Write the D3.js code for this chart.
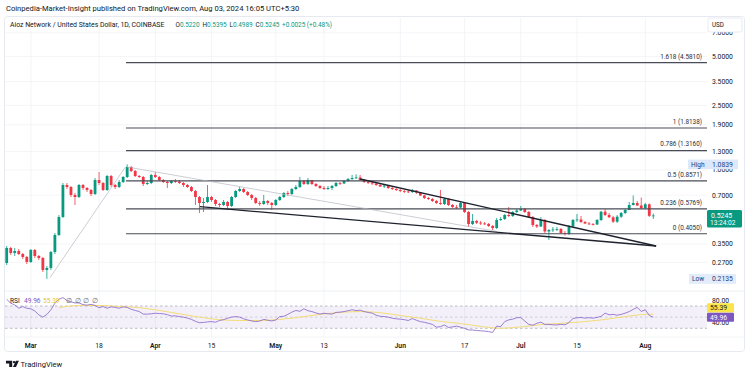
<!DOCTYPE html>
<html><head><meta charset="utf-8">
<script src="https://cdn.jsdelivr.net/npm/d3@7"></script>
<style>
body{margin:0;background:#fff;}
svg{display:block;font-family:Roboto,'Liberation Sans',sans-serif;}
</style>
</head><body>
<svg id="c" width="750" height="373"></svg>
<script>
// ---------------- DATA ----------------
const firstDay = Date.UTC(2024, 1, 24);   // first candle: 24 Feb 2024, one candle per day
const firstOpen = 0.2675;
const closes = [
.3308,.3082,.3170,.3038,.2912,.2713,.3216,.2953,.2871,.2422,
.2492,.3126,.3978,.5135,.8084,.7858,.7015,.6819,.8084,.7747,
.7531,.7116,.8678,.8316,.7531,.9184,.8084,.7858,.8435,.9055,
1.0435,.9859,.9184,.9055,.8199,.8316,.9316,.9055,.8678,.8435,
.8316,.8556,.8495,.8316,.8084,.7858,.7425,.6819,.6263,.6352,
.6819,.6535,.6175,.6088,.6352,.6002,.6819,.7425,.7638,.7320,
.7015,.6723,.6263,.6175,.6443,.6263,.6088,.6535,.6819,.7217,
.7116,.7638,.7858,.8556,.8199,.8678,.8199,.7970,.7747,.7638,
.7747,.7970,.8316,.8257,.8556,.8802,.8927,.8991,.8678,.8435,
.8375,.8257,.8084,.7914,.8027,.7747,.7638,.7531,.7425,.7372,
.7320,.7478,.7268,.6966,.6723,.6629,.6443,.6263,.6175,.6629,
.6088,.5917,.5875,.6263,.5512,.4650,.4852,.4736,.4683,.4650,
.4520,.4393,.4921,.4991,.5283,.5208,.5512,.5631,.5752,.5512,
.5135,.4584,.4488,.4921,.4180,.4270,.4301,.4331,.4092,.4035,
.4488,.4921,.4956,.4783,.4683,.4650,.4617,.4921,.5536,.5283,
.5113,.4805,.5157,.5435,.5671,.6088,.6263,.6045,.5834,.6149,
.5220,.5245];
const highs = [
.3403,.3355,.3308,.3262,.3082,.2953,.3262,.3262,.2996,.2912,
.2563,.3170,.4092,.5283,.8316,.8316,.7970,.7217,.8199,.8199,
.7858,.7638,.8927,.9720,.8435,.9316,.9316,.8199,.8678,.9184,
1.0839,1.0584,1.0000,.9316,.9184,.8556,.9449,.9720,.9184,.8802,
.8556,.8678,.8802,.8678,.8435,.8199,.7970,.7531,.6917,.6723,
.8084,.6917,.6629,.6263,.6535,.6443,.6917,.7531,.7858,.7747,
.7425,.7116,.6819,.6443,.7015,.6535,.6352,.6629,.6917,.7320,
.7425,.7747,.8084,.9055,.8678,.8927,.8678,.8316,.8084,.7970,
.7970,.8084,.8435,.8435,.8678,.8927,.9316,.9409,.9316,.8802,
.8556,.8556,.8316,.8199,.8199,.8084,.7858,.7747,.7638,.7531,
.7531,.7638,.7531,.7320,.7015,.6819,.6723,.6535,.7531,.6723,
.6723,.6175,.6088,.6352,.6263,.5591,.5358,.4921,.4852,.4783,
.4716,.4584,.5063,.5135,.5358,.5917,.5591,.5752,.6002,.5834,
.5591,.5208,.4650,.5135,.4991,.4331,.4456,.4456,.4393,.4210,
.4584,.4991,.5358,.5208,.4852,.4783,.4716,.4991,.5591,.5752,
.5435,.5208,.5283,.5512,.5752,.6352,.6966,.6443,.6771,.6263,
.6219,.5395];
const lows = [
.2600,.2996,.2953,.2996,.2830,.2637,.2675,.2871,.2791,.2354,
.2135,.2422,.3038,.3922,.5063,.7638,.6819,.6088,.6723,.7531,
.7320,.6917,.7015,.8084,.7425,.7425,.7858,.7638,.7747,.8316,
.8927,.9720,.9055,.8927,.7970,.8084,.8199,.8927,.8556,.8316,
.7747,.8199,.8316,.8199,.7858,.7747,.7320,.6088,.5435,.5512,
.6263,.6352,.6002,.5917,.6002,.5671,.5917,.6723,.7320,.7217,
.6917,.6535,.6175,.6002,.6088,.6088,.5671,.6002,.6443,.6723,
.6917,.7015,.7531,.7747,.8084,.8084,.8084,.7858,.7638,.7531,
.7531,.7531,.7858,.8084,.8199,.8435,.8678,.8802,.8556,.8316,
.8199,.8084,.7970,.7858,.7747,.7638,.7531,.7425,.7320,.7217,
.7217,.7217,.7116,.6917,.6629,.6535,.6352,.6175,.6088,.6088,
.6002,.5834,.5752,.5834,.5435,.4456,.4584,.4650,.4584,.4584,
.4456,.4270,.4331,.4852,.4921,.5135,.5135,.5435,.5591,.5435,
.5063,.4456,.4393,.4456,.4092,.3706,.4151,.4210,.4035,.3950,
.3978,.4456,.4783,.4716,.4650,.4584,.4552,.4584,.4852,.5208,
.5063,.4716,.4716,.5063,.5358,.5671,.6045,.6002,.5752,.5752,
.5135,.4989];
const rsiValues = [
82,75,72,66,69,66,65,61,54,50,
55,63,75,82,85,80,77.5,75.5,75.5,72.5,
71.5,73,71,67,69,66,68.5,67.5,66,68.5,
67.5,64,62,60,55.4,55.4,56,57,56.5,56,
54.5,52,52.3,51,50,48.3,46,42.5,40,40.5,
41.5,42,41,44,45.5,48,50,51,50,47,
45,43.2,42,43,46,44.5,43.2,45,51,51.5,
55,59,62,60.5,65,61.5,60,57.5,55.5,57,
56,55.4,58.5,59,60,61.5,63.3,61.8,62.6,60,
58.5,57.2,53.5,51.5,51.1,50,48.1,47,46.4,45.5,
44,47.5,44.5,42,40.8,39,37,32,33,36,
31.5,32.5,34,32,29.9,27,26.9,26,25.5,25.1,
24,22.6,34,33,42,45.1,46.3,49,49.3,43,
37,35.5,39,41,37,37,36.3,36,37.2,36.2,
40.5,47.5,49,49.3,48.3,49,48.2,49.5,51.5,57.2,
54.2,55,53.5,55,57.2,60,64,67.5,60.2,63.3,
53,49.96];
const rsiMaDays = [13,18,23,28,33,38,43,48,53,58,63,68,73,78,83,88,93,98,103,108,113,118,123,128,133,138,143,148,153,158,161];
const rsiMaValues = [67,71,71,69,67,62,56,50,45.5,44,44,46,50,55,58.5,60,58,53,48,42.5,38.5,33.5,30,32.5,36.5,39,41.5,45,50,54.5,55.39];

const priceTicks = [7, 5, 3.5, 2.5, 1.9, 1.3, 1.0, 0.7, 0.35, 0.27];
const dateTickDays = [6, 23, 37, 51, 67, 79, 98, 114, 128, 142, 159];
const dateTickLabels = ["Mar","18","Apr","15","May","13","Jun","17","Jul","15","Aug"];
const monthLabels = ["Mar","Apr","May","Jun","Jul","Aug"];

const fibRatios = ["1.618","1","0.786","0.5","0.236","0"];
const fibValues = [4.5810, 1.8138, 1.3160, 0.8571, 0.5769, 0.4050];
const fibStartDay = 29.7;

// trend lines: [startDay, startPrice, endDay, endPrice]
const boldLines = [[48.1, 0.5942, 161.7, 0.3403], [88.0, 0.8802, 161.7, 0.3403]];
const thinLines = [[30.0, 1.0435, 122.1, 0.4180], [10.8, 0.2175, 29.5, 1.0391]];

const rsiBands = [70, 50, 30];
const rsiAxisTicks = [80, 40];
const lastPrice = 0.5245, countdown = "13:24:02";
const highValue = 1.0839, lowValue = 0.2135;
const rsiLast = 49.96, rsiMaLast = 55.39;

// ---------------- DRAW ----------------
const UP = "#089981", DOWN = "#f23645", TXT = "#131722";
const svg = d3.select("#c");
const dayMs = 864e5;
const dd = i => new Date(firstDay + i * dayMs);

const PL = 5, PR = 707, PT = 17, PB = 291;
const x = d3.scaleUtc().domain([dd(0), dd(161)]).range([6.7, 653.3]);
const y = d3.scaleLog().domain([0.2, 5]).range([283.47, 56.53]);
const ry = d3.scaleLinear().domain([30, 70]).range([328.3, 306]);

// header
svg.append("text").attr("x", 6).attr("y", 11).attr("font-size", 7.6).attr("fill", TXT)
  .text("Coinpedia-Market-Insight published on TradingView.com, Aug 03, 2024 16:05 UTC+5:30");

// frame
svg.append("rect").attr("x", 4.5).attr("y", 16.5).attr("width", 740).attr("height", 335)
  .attr("rx", 3).attr("fill", "none").attr("stroke", "#e0e3eb").attr("stroke-width", 0.8);

// clip
const defs = svg.append("defs");
defs.append("clipPath").attr("id", "pc").append("rect")
  .attr("x", PL).attr("y", PT).attr("width", PR - PL).attr("height", PB - PT);
defs.append("clipPath").attr("id", "rc").append("rect")
  .attr("x", PL).attr("y", PB).attr("width", PR - PL).attr("height", 46);

// grid
const grid = svg.append("g");
grid.selectAll("line.v").data(dateTickDays).join("line")
  .attr("x1", d => x(dd(d))).attr("x2", d => x(dd(d)))
  .attr("y1", 18).attr("y2", 337).attr("stroke", "#eff1f5").attr("stroke-width", 0.8);
grid.selectAll("line.h").data(priceTicks).join("line")
  .attr("x1", PL).attr("x2", PR).attr("y1", d => y(d)).attr("y2", d => y(d))
  .attr("stroke", "#f2f3f6").attr("stroke-width", 0.8);
svg.append("line").attr("x1", PL).attr("x2", 744).attr("y1", PB).attr("y2", PB)
  .attr("stroke", "#e9ebf0").attr("stroke-width", 0.8);
svg.append("line").attr("x1", PL).attr("x2", 744).attr("y1", 337).attr("y2", 337)
  .attr("stroke", "#f0f1f4").attr("stroke-width", 0.8);

// legend
const lg = svg.append("g").attr("font-size", 6.9).attr("fill", TXT);
lg.append("text").attr("x", 10).attr("y", 27).text("Aioz Network / United States Dollar, 1D, COINBASE");
const ohlc = [["O", "0.5220", 175.5], ["H", "0.5395", 202.5], ["L", "0.4989", 229.5], ["C", "0.5245", 255.5]];
ohlc.forEach(([k, v, px]) => {
  const t = lg.append("text").attr("x", px).attr("y", 27).attr("font-size", 6.4);
  t.append("tspan").text(k);
  t.append("tspan").attr("fill", UP).text(v);
});
lg.append("text").attr("x", 282).attr("y", 27).attr("font-size", 6.4).attr("fill", UP).text("+0.0025 (+0.48%)");

// price pane content
const pane = svg.append("g").attr("clip-path", "url(#pc)");

// candles
const candles = closes.map((c, i) => ({
  d: dd(i), o: i === 0 ? firstOpen : closes[i - 1], c, h: highs[i], l: lows[i]
}));
const cg = pane.append("g");
cg.selectAll("line").data(candles).join("line")
  .attr("x1", d => x(d.d)).attr("x2", d => x(d.d))
  .attr("y1", d => y(d.h)).attr("y2", d => y(d.l))
  .attr("stroke", d => d.c >= d.o ? UP : DOWN).attr("stroke-width", 0.8);
cg.selectAll("rect").data(candles).join("rect")
  .attr("x", d => x(d.d) - 1.4).attr("width", 2.8)
  .attr("y", d => Math.min(y(d.o), y(d.c)))
  .attr("height", d => Math.max(0.8, Math.abs(y(d.o) - y(d.c))))
  .attr("fill", d => d.c >= d.o ? UP : DOWN);

// fib levels
const fibs = fibValues.map((v, i) => ({ v, r: fibRatios[i] }));
pane.selectAll("line.fib").data(fibs).join("line")
  .attr("x1", x(dd(fibStartDay))).attr("x2", PR)
  .attr("y1", d => y(d.v)).attr("y2", d => y(d.v))
  .attr("stroke", "#4a4d57").attr("stroke-width", 1.2);
svg.selectAll("text.fib").data(fibs).join("text")
  .attr("x", 702).attr("y", d => y(d.v) - 4.2).attr("text-anchor", "end")
  .attr("font-size", 6.4).attr("fill", "#2a2e39")
  .text(d => `${d.r} (${d.v.toFixed(4)})`);

// trend lines
pane.selectAll("line.thin").data(thinLines).join("line")
  .attr("x1", d => x(dd(d[0]))).attr("y1", d => y(d[1]))
  .attr("x2", d => x(dd(d[2]))).attr("y2", d => y(d[3]))
  .attr("stroke", "#b6b9c2").attr("stroke-width", 0.7);
pane.selectAll("line.bold").data(boldLines).join("line")
  .attr("x1", d => x(dd(d[0]))).attr("y1", d => y(d[1]))
  .attr("x2", d => x(dd(d[2]))).attr("y2", d => y(d[3]))
  .attr("stroke", "#1e222d").attr("stroke-width", 1.3);

// price axis labels
const ax = svg.append("g").attr("font-size", 6.8).attr("fill", TXT);
ax.selectAll("text").data(priceTicks).join("text")
  .attr("x", 712).attr("y", d => y(d)).attr("dy", "0.35em").text(d => d.toFixed(4));

// USD box
svg.append("rect").attr("x", 708).attr("y", 18).attr("width", 34).attr("height", 14)
  .attr("rx", 2).attr("fill", "#fff").attr("stroke", "#e0e3eb").attr("stroke-width", 0.7);
svg.append("text").attr("x", 712).attr("y", 27.3).attr("font-size", 6.3).attr("fill", TXT).text("USD");

// High label
const hy = y(highValue);
svg.append("rect").attr("x", 688).attr("y", hy - 4.8).attr("width", 50).attr("height", 9.6)
  .attr("fill", "#dde8fb");
svg.append("text").attr("x", 691).attr("y", hy).attr("dy", "0.35em").attr("font-size", 6.6)
  .attr("fill", "#1c3d7a").text("High");
svg.append("text").attr("x", 712).attr("y", hy).attr("dy", "0.35em").attr("font-size", 6.8)
  .attr("fill", "#1c3d7a").text(highValue.toFixed(4));

// Low label
const ly = y(lowValue);
svg.append("rect").attr("x", 689).attr("y", ly - 5).attr("width", 47).attr("height", 10)
  .attr("fill", "#e3ecfb");
svg.append("text").attr("x", 692).attr("y", ly).attr("dy", "0.35em").attr("font-size", 6.6)
  .attr("fill", "#1c3d7a").text("Low");
svg.append("text").attr("x", 712).attr("y", ly).attr("dy", "0.35em").attr("font-size", 6.8)
  .attr("fill", "#1c3d7a").text(lowValue.toFixed(4));

// last price label
const py = y(lastPrice);
svg.append("rect").attr("x", 707).attr("y", py - 5.5).attr("width", 35).attr("height", 17.5)
  .attr("rx", 1.5).attr("fill", UP);
svg.append("text").attr("x", 711).attr("y", py).attr("dy", "0.35em").attr("font-size", 6.9)
  .attr("fill", "#fff").text(lastPrice.toFixed(4));
svg.append("text").attr("x", 710).attr("y", py + 7.3).attr("dy", "0.35em").attr("font-size", 6.6)
  .attr("fill", "#fff").text(countdown);

// RSI pane
const rp = svg.append("g").attr("clip-path", "url(#rc)");
rp.append("rect").attr("x", PL).attr("width", PR - PL)
  .attr("y", ry(70)).attr("height", ry(30) - ry(70)).attr("fill", "rgba(126,87,194,0.09)");
rp.selectAll("line.band").data(rsiBands).join("line")
  .attr("x1", PL).attr("x2", PR).attr("y1", d => ry(d)).attr("y2", d => ry(d))
  .attr("stroke", "#787b86").attr("stroke-opacity", d => d === 50 ? 0.5 : 0.8)
  .attr("stroke-width", 0.6).attr("stroke-dasharray", "2.5,2.5");
rp.append("path")
  .datum(rsiMaDays.map((d, i) => [d, rsiMaValues[i]]))
  .attr("d", d3.line().x(d => x(dd(d[0]))).y(d => ry(d[1])).curve(d3.curveMonotoneX))
  .attr("fill", "none").attr("stroke", "#f3dc78").attr("stroke-width", 1);
rp.append("path")
  .datum(rsiValues.map((v, i) => [i, v]))
  .attr("d", d3.line().x(d => x(dd(d[0]))).y(d => ry(d[1])))
  .attr("fill", "none").attr("stroke", "#8561c8").attr("stroke-width", 0.8);

// RSI legend
const rl = svg.append("text").attr("x", 10).attr("y", 302.5).attr("font-size", 6.6).attr("fill", TXT);
rl.append("tspan").text("RSI");
rl.append("tspan").attr("x", 24).attr("fill", "#7e57c2").text(rsiLast.toFixed(2));
rl.append("tspan").attr("x", 43).attr("fill", "#e8c32c").text(rsiMaLast.toFixed(2));
[66, 74.5, 83, 92].forEach(px => rl.append("tspan").attr("x", px).attr("fill", "#6a6d78").text("∅"));

// RSI axis (value labels stacked like the reference: MA above, RSI below)
svg.selectAll("text.rax").data(rsiAxisTicks).join("text")
  .attr("x", 712).attr("y", d => ry(d)).attr("dy", "0.35em").attr("font-size", 6.8).attr("fill", TXT)
  .text(d => d.toFixed(2));
const rsiLabelY = ry(rsiLast);
const maLabelY = Math.min(ry(rsiMaLast), rsiLabelY - 9.2);
svg.append("rect").attr("x", 707).attr("y", maLabelY - 4.6).attr("width", 27).attr("height", 9.2)
  .attr("rx", 1).attr("fill", "#f9e547");
svg.append("text").attr("x", 710).attr("y", maLabelY).attr("dy", "0.35em").attr("font-size", 6.8)
  .attr("fill", TXT).text(rsiMaLast.toFixed(2));
svg.append("rect").attr("x", 707).attr("y", rsiLabelY - 4.4).attr("width", 27).attr("height", 9)
  .attr("rx", 1).attr("fill", "#7e57c2");
svg.append("text").attr("x", 710).attr("y", rsiLabelY).attr("dy", "0.35em").attr("font-size", 6.8)
  .attr("fill", "#fff").text(rsiLast.toFixed(2));

// time axis
svg.selectAll("text.tx").data(dateTickDays).join("text")
  .attr("x", d => x(dd(d))).attr("y", 348).attr("text-anchor", "middle")
  .attr("font-size", 6.8).attr("fill", TXT)
  .attr("font-weight", (d, i) => monthLabels.includes(dateTickLabels[i]) ? 600 : 400)
  .text((d, i) => dateTickLabels[i]);

// TradingView logo
const logo = svg.append("g").attr("fill", TXT);
logo.append("path").attr("d", "M6,360.8 h6.2 v6.2 h-3 v-3.6 h-3.2z");
logo.append("circle").attr("cx", 14.1).attr("cy", 362.1).attr("r", 1.2);
logo.append("path").attr("d", "M15.9,360.8 h3 l-2.9,6.2 h-3z");
svg.append("text").attr("x", 20.5).attr("y", 366.5).attr("font-size", 7.6).attr("fill", TXT).text("TradingView");
</script>
</body></html>
